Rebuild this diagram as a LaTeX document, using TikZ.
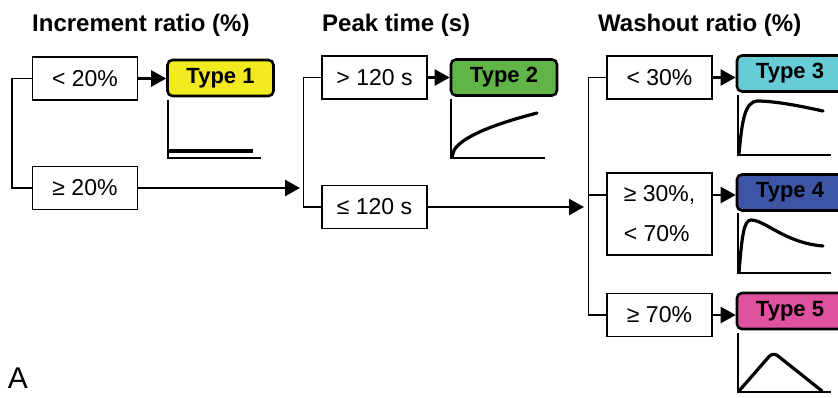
\documentclass[tikz,border=0pt]{standalone}
\usepackage{fontspec}
\setmainfont{Liberation Sans}
\usetikzlibrary{arrows.meta}

\definecolor{typeyellow}{RGB}{242,234,30}
\definecolor{typegreen}{RGB}{96,180,72}
\definecolor{typecyan}{RGB}{104,204,214}
\definecolor{typeblue}{RGB}{62,84,164}
\definecolor{typepink}{RGB}{222,82,160}

\begin{document}
\begin{tikzpicture}[x=1pt,y=-1pt,
	cond/.style={draw, line width=1.4pt, inner sep=0pt, minimum width=105pt, minimum height=43pt, font=\fontsize{23}{40}\selectfont},
	typebox/.style={draw, line width=2.6pt, rounded corners=5pt, inner sep=0pt, minimum width=106pt, minimum height=36pt, font=\fontsize{22}{26}\selectfont\bfseries},
	head/.style={anchor=base west, inner sep=0pt, font=\fontsize{24}{28}\selectfont\bfseries},
	arr/.style={line width=2.4pt, -{Triangle[length=15pt,width=16pt]}},
	axis/.style={line width=1.4pt},
	curve/.style={line width=3.2pt, line cap=round, line join=round}]
	\useasboundingbox (0,0) rectangle (838,398);
	
	% Column headings
	\node[head] (h1) at (32,32) {Increment ratio (\%)};
	\node[head] (h2) at (322,32) {Peak time (s)};
	\node[head] (h3) at (598,32) {Washout ratio (\%)};
	
	% Increment ratio
	\node[cond] (c1) at (85,78.5) {< 20\%};
	\node[cond] (c2) at (85,188) {≥ 20\%};
	\node[typebox, fill=typeyellow] (t1) at (220.5,78) {Type 1};
	\draw[line width=1.4pt] (c1.west) -- ++(-20,0) |- (c2.west);
	\draw[arr] (c1.east) -- (c1.east -| t1.west);
	\coordinate (j1) at (300,188);
	\draw[arr] (c2.east) -- (j1);
	
	% Peak time
	\node[cond] (c3) at (374.5,77.5) {> 120 s};
	\node[cond] (c4) at (374.5,207) {≤ 120 s};
	\node[typebox, fill=typegreen] (t2) at (504,77.5) {Type 2};
	\draw[line width=1.4pt] (c3.west) -- ++(-18,0) |- (c4.west);
	\draw[arr] (c3.east) -- (c3.east -| t2.west);
	\coordinate (j2) at (584,207);
	\draw[arr] (c4.east) -- (j2);
	
	% Washout ratio
	\node[cond] (c5) at (659.5,77.5) {< 30\%};
	\node[cond, minimum height=82pt, align=left] (c6) at (659.5,214) {≥ 30\%,\\< 70\%};
	\node[cond] (c7) at (659.5,315) {≥ 70\%};
	\node[typebox, fill=typecyan] (t3) at (790,73.5) {Type 3};
	\node[typebox, fill=typeblue] (t4) at (790,192.5) {Type 4};
	\node[typebox, fill=typepink] (t5) at (790,311) {Type 5};
	\draw[line width=1.4pt] (c5.west) -- ++(-18,0) |- (c7.west);
	\draw[line width=1.4pt] ([yshift=19pt]c6.west) -- ++(-18,0);
	\draw[arr] (c5.east) -- (c5.east -| t3.west);
	\draw[arr] ([yshift=19pt]c6.east) -- ([yshift=19pt]c6.east -| t4.west);
	\draw[arr] (c7.east) -- (c7.east -| t5.west);
	
	% Curves under the types
	\draw[axis] (168,100) -- (168,158) -- (261,158);
	\draw[curve, line cap=butt] (168,151) -- (253,151);
	
	\draw[axis] (451,99) -- (451,158) -- (545,158);
	\draw[curve] plot[domain=0:85, samples=40] ({452+\x},{157-4.77*sqrt(\x)});
	
	\draw[axis] (738,95) -- (738,155) -- (831,155);
	\draw[curve] (739,154) .. controls (742,120) and (745,102) .. (757,101) .. controls (775,101) and (800,106) .. (823,111);
	
	\draw[axis] (738,213) -- (738,273) -- (831,273);
	\draw[curve] (739,272) .. controls (742,235) and (744,220) .. (751,220) .. controls (765,220) and (785,243) .. (823,246);
	
	\draw[axis] (738,333) -- (738,392) -- (831,392);
	\draw[curve, rounded corners=6pt] (739,391) -- (773,352) -- (822,391);
	
	% Panel label
	\node[font=\fontsize{30}{34}\selectfont] (lab) at (18,378) {A};
\end{tikzpicture}
\end{document}
